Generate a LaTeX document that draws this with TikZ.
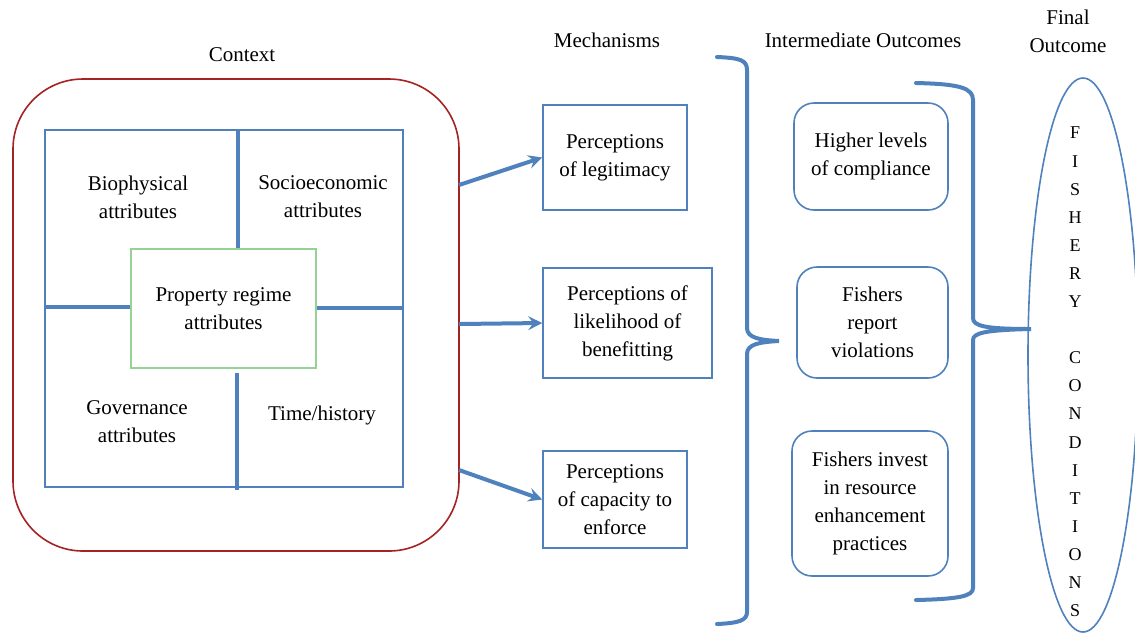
\documentclass[tikz,border=0pt]{standalone}
\usepackage{fontspec}
\setmainfont{Liberation Serif}
\usetikzlibrary{shapes.geometric}
\definecolor{lineblue}{RGB}{79,129,189}
\definecolor{ctxred}{RGB}{165,35,35}
\definecolor{propgreen}{RGB}{150,210,150}
\begin{document}
\begin{tikzpicture}[x=0.5pt, y=-0.5pt,
    every node/.style = {font=\fontsize{10.5}{14}\selectfont, align=center},
    arrow/.style = {lineblue, line width=2pt, -stealth},
    divider/.style = {lineblue, line width=2pt},
    brace/.style = {lineblue, line width=2pt, line cap=round},
    mechbox/.style = {draw=lineblue, line width=0.8pt, inner sep=0pt},
    outbox/.style = {draw=lineblue, line width=0.8pt, rounded corners=10pt, inner sep=0pt}]
    \useasboundingbox (0,0) rectangle (1135,634);

    % context
    \node (ctxlabel) at (242,55) {Context};
    \draw[ctxred, line width=0.8pt, rounded corners=35pt]
        (13,79) rectangle (459,551);
    \node[draw=lineblue, line width=0.8pt, minimum width=179pt, minimum height=178.5pt]
        (grid) at (224,308.5) {};
    \node[draw=propgreen, line width=0.6pt, fill=white, minimum width=92.5pt, minimum height=59.5pt]
        (prop) at (223.5,308.5) {Property regime\\attributes};
    \coordinate (v1) at (238,0);
    \coordinate (v2) at (237,0);
    \coordinate (h1) at (0,307);
    \coordinate (h2) at (0,308);
    \draw[divider] (grid.north -| v1) -- (prop.north -| v1);
    \draw[divider] ([yshift=-2pt]prop.south -| v2) -- ([yshift=-1pt]grid.south -| v2);
    \draw[divider] (grid.west |- h1) -- (prop.west |- h1);
    \draw[divider] (prop.east |- h2) -- (grid.east |- h2);
    \node (bio) at (138,197) {Biophysical\\attributes};
    \node (socio) at (323,197) {Socioeconomic\\attributes};
    \node (gov) at (137,422) {Governance\\attributes};
    \node (time) at (322,415) {Time/history};

    % mechanisms
    \node (mechlabel) at (607,40) {Mechanisms};
    \node[mechbox, minimum width=72pt, minimum height=52.5pt]
        (mech1) at (615,157.5) {Perceptions\\of legitimacy};
    \node[mechbox, minimum width=84.5pt, minimum height=55pt]
        (mech2) at (627.5,323) {Perceptions of\\likelihood of\\benefitting};
    \node[mechbox, minimum width=72pt, minimum height=48.5pt]
        (mech3) at (615,499.5) {Perceptions\\of capacity to\\enforce};
    \coordinate (a1) at (459,185);
    \coordinate (a2) at (459,324);
    \coordinate (a3) at (459,470);
    \draw[arrow] (a1) -- (mech1.west);
    \draw[arrow] (a2) -- (mech2.west);
    \draw[arrow] (a3) -- (mech3.west);

    % first brace
    \draw[brace] (717,57) .. controls (740,58) and (747,60) .. (747,70)
        -- (747,328) .. controls (747,338) and (760,340) .. (779,341)
        .. controls (760,342) and (747,344) .. (747,354)
        -- (747,612) .. controls (747,620) and (740,623) .. (717,624);

    % intermediate outcomes
    \node (outlabel) at (863,40) {Intermediate Outcomes};
    \node[outbox, minimum width=77pt, minimum height=53.5pt]
        (out1) at (871,156.5) {Higher levels\\of compliance};
    \node[outbox, minimum width=75.5pt, minimum height=55.5pt]
        (out2) at (872.5,322.5) {Fishers\\report\\violations};
    \node[outbox, minimum width=78pt, minimum height=72.5pt]
        (out3) at (870,503.5) {Fishers invest\\in resource\\enhancement\\practices};

    % second brace
    \draw[brace] (916,83) .. controls (960,84) and (973,88) .. (973,100)
        -- (973,318) .. controls (973,326) and (985,329) .. (1031,329)
        .. controls (985,330) and (973,333) .. (973,340)
        -- (973,588) .. controls (973,596) and (960,599) .. (916,600);

    % final outcome
    \node (finallabel) at (1068,31) {Final\\Outcome};
    \node[draw=lineblue, line width=0.8pt, ellipse, inner sep=0pt,
          minimum width=55pt, minimum height=277pt] (fishery) at (1083,355) {};
    \node[font=\fontsize{9}{14.05}\selectfont] (fisherytext) at (1075,372)
        {F\\I\\S\\H\\E\\R\\Y\\\mbox{}\\C\\O\\N\\D\\I\\T\\I\\O\\N\\S};
\end{tikzpicture}
\end{document}
